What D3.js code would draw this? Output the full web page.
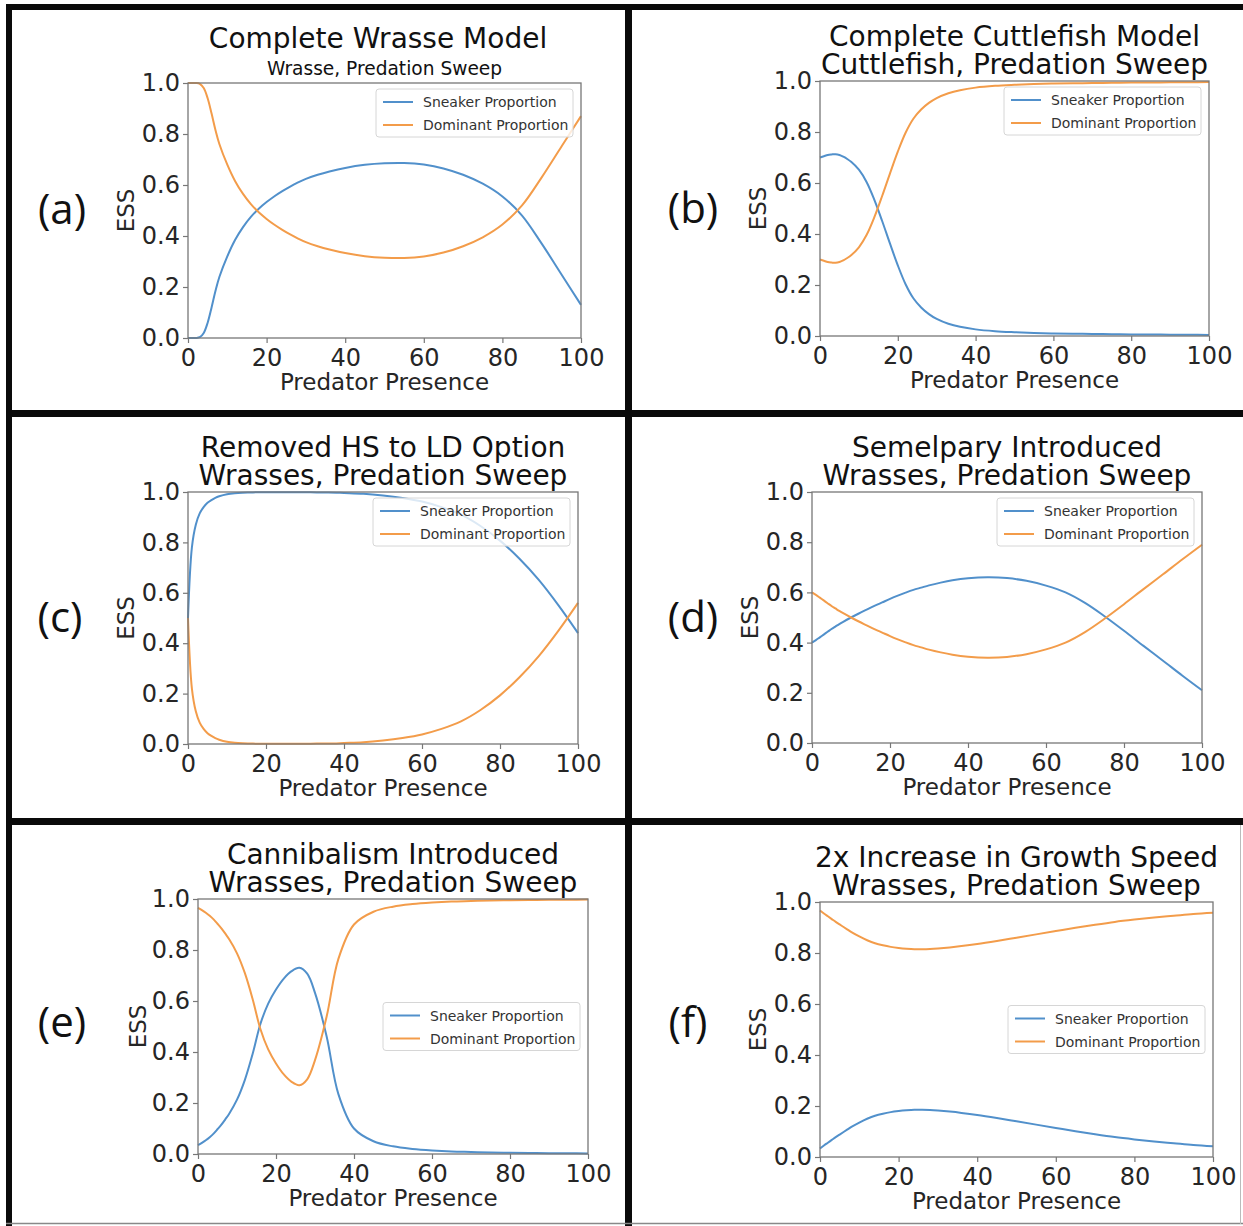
<!DOCTYPE html>
<html>
<head>
<meta charset="utf-8">
<script src="https://cdn.jsdelivr.net/npm/d3@7"></script>
<style>
  body { margin: 0; background: #fff; }
  svg { display: block; }
</style>
</head>
<body>
<div id="chart"></div>
<script>
// predator presence sample points (shared by every panel)
const xValues = [0, 1, 2, 3, 4, 5, 6, 7, 8, 10, 12, 14, 16, 18, 20, 22, 24, 26, 28, 30, 33, 36, 40, 45, 50, 55, 60, 65, 70, 75, 80, 85, 90, 95, 100];

// (a) Complete Wrasse Model
const sneakerA  = [0, 0, 0, 0.003, 0.02, 0.06, 0.12, 0.185, 0.24, 0.32, 0.385, 0.435, 0.475, 0.507, 0.533, 0.556, 0.576, 0.594, 0.61, 0.624, 0.64, 0.653, 0.667, 0.679, 0.685, 0.686, 0.68, 0.665, 0.64, 0.605, 0.555, 0.48, 0.37, 0.25, 0.13];
const dominantA = [1, 1, 1, 0.997, 0.98, 0.94, 0.88, 0.815, 0.76, 0.68, 0.615, 0.565, 0.525, 0.493, 0.467, 0.444, 0.424, 0.406, 0.39, 0.376, 0.36, 0.347, 0.333, 0.321, 0.315, 0.314, 0.32, 0.335, 0.36, 0.395, 0.445, 0.52, 0.63, 0.75, 0.87];

// (b) Complete Cuttlefish Model
const sneakerB  = [0.70, 0.705, 0.71, 0.712, 0.713, 0.71, 0.703, 0.694, 0.683, 0.652, 0.603, 0.533, 0.45, 0.362, 0.277, 0.203, 0.148, 0.112, 0.086, 0.067, 0.048, 0.036, 0.026, 0.019, 0.015, 0.012, 0.010, 0.009, 0.008, 0.007, 0.006, 0.006, 0.005, 0.005, 0.004];
const dominantB = [0.30, 0.295, 0.29, 0.288, 0.287, 0.29, 0.297, 0.306, 0.317, 0.348, 0.397, 0.467, 0.55, 0.638, 0.723, 0.797, 0.852, 0.888, 0.914, 0.933, 0.952, 0.964, 0.974, 0.981, 0.985, 0.988, 0.990, 0.991, 0.992, 0.993, 0.994, 0.994, 0.995, 0.995, 0.996];

// (c) Removed HS to LD Option
const sneakerC  = [0.50, 0.78, 0.87, 0.915, 0.94, 0.957, 0.968, 0.977, 0.983, 0.991, 0.995, 0.997, 0.998, 0.999, 0.999, 0.999, 0.999, 0.999, 0.999, 0.999, 0.998, 0.998, 0.996, 0.993, 0.986, 0.976, 0.962, 0.94, 0.91, 0.865, 0.807, 0.735, 0.65, 0.55, 0.44];
const dominantC = [0.50, 0.22, 0.13, 0.085, 0.06, 0.043, 0.032, 0.023, 0.017, 0.009, 0.005, 0.003, 0.002, 0.001, 0.001, 0.001, 0.001, 0.001, 0.001, 0.001, 0.002, 0.002, 0.004, 0.007, 0.014, 0.024, 0.038, 0.06, 0.09, 0.135, 0.193, 0.265, 0.35, 0.45, 0.56];

// (d) Semelpary Introduced
const sneakerD  = [0.40, 0.41, 0.421, 0.432, 0.443, 0.454, 0.464, 0.474, 0.483, 0.50, 0.516, 0.531, 0.546, 0.56, 0.574, 0.587, 0.599, 0.61, 0.619, 0.628, 0.639, 0.648, 0.656, 0.66, 0.657, 0.646, 0.627, 0.60, 0.558, 0.505, 0.447, 0.387, 0.328, 0.268, 0.21];
const dominantD = [0.60, 0.59, 0.579, 0.568, 0.557, 0.546, 0.536, 0.526, 0.517, 0.50, 0.484, 0.469, 0.454, 0.44, 0.426, 0.413, 0.401, 0.39, 0.381, 0.372, 0.361, 0.352, 0.344, 0.34, 0.343, 0.354, 0.373, 0.40, 0.442, 0.495, 0.553, 0.613, 0.672, 0.732, 0.79];

// (e) Cannibalism Introduced
const sneakerE  = [0.035, 0.044, 0.054, 0.066, 0.08, 0.097, 0.115, 0.136, 0.158, 0.213, 0.29, 0.392, 0.51, 0.59, 0.645, 0.688, 0.717, 0.73, 0.707, 0.632, 0.46, 0.235, 0.10, 0.05, 0.03, 0.02, 0.014, 0.01, 0.008, 0.006, 0.005, 0.004, 0.003, 0.003, 0.002];
const dominantE = [0.965, 0.956, 0.946, 0.934, 0.92, 0.903, 0.885, 0.864, 0.842, 0.787, 0.71, 0.608, 0.49, 0.41, 0.355, 0.312, 0.283, 0.27, 0.293, 0.368, 0.54, 0.765, 0.90, 0.95, 0.97, 0.98, 0.986, 0.99, 0.992, 0.994, 0.995, 0.996, 0.997, 0.997, 0.998];

// (f) 2x Increase in Growth Speed
const sneakerF  = [0.033, 0.045, 0.056, 0.067, 0.078, 0.088, 0.098, 0.108, 0.118, 0.135, 0.150, 0.162, 0.170, 0.176, 0.180, 0.183, 0.185, 0.185, 0.184, 0.182, 0.178, 0.173, 0.165, 0.153, 0.140, 0.127, 0.114, 0.101, 0.089, 0.078, 0.069, 0.061, 0.054, 0.047, 0.042];
const dominantF = [0.967, 0.955, 0.944, 0.933, 0.922, 0.912, 0.902, 0.892, 0.882, 0.865, 0.85, 0.838, 0.83, 0.824, 0.82, 0.817, 0.815, 0.815, 0.816, 0.818, 0.822, 0.827, 0.835, 0.847, 0.86, 0.873, 0.886, 0.899, 0.911, 0.922, 0.931, 0.939, 0.946, 0.953, 0.958];

const seriesNames = ["Sneaker Proportion", "Dominant Proportion"];
const seriesColors = ["#5190cb", "#f39c4a"];
const xTicks = [0, 20, 40, 60, 80, 100];
const yTicks = [0, 0.2, 0.4, 0.6, 0.8, 1.0];

const panelLetters = ["(a)", "(b)", "(c)", "(d)", "(e)", "(f)"];
const panelTitles = [
    ["Complete Wrasse Model"],
    ["Complete Cuttlefish Model", "Cuttlefish, Predation Sweep"],
    ["Removed HS to LD Option", "Wrasses, Predation Sweep"],
    ["Semelpary Introduced", "Wrasses, Predation Sweep"],
    ["Cannibalism Introduced", "Wrasses, Predation Sweep"],
    ["2x Increase in Growth Speed", "Wrasses, Predation Sweep"]
];
const panelSubtitles = ["Wrasse, Predation Sweep", null, null, null, null, null];
const panelSeries = [
    [sneakerA, dominantA], [sneakerB, dominantB], [sneakerC, dominantC],
    [sneakerD, dominantD], [sneakerE, dominantE], [sneakerF, dominantF]
];

// layout of each axes box in the figure
const panelLayout = [
    {l: 188, r: 581, t: 83, b: 338, letter: [62, 212], essX: 126, legend: "upper", titleX: 378},
    {l: 820, r: 1209, t: 81, b: 336, letter: [693, 211], essX: 758, legend: "upper"},
    {l: 188, r: 578, t: 492, b: 744, letter: [60, 620], essX: 126, legend: "upper"},
    {l: 812, r: 1202, t: 492, b: 743, letter: [693, 620], essX: 750, legend: "upper"},
    {l: 198, r: 588, t: 899, b: 1154, letter: [62, 1025], essX: 138, legend: "center"},
    {l: 820, r: 1213, t: 902, b: 1157, letter: [688, 1025], essX: 758, legend: "center"}
];

const W = 1243, H = 1226;
const FONT = "'DejaVu Sans', sans-serif";
const spineColor = "#777";

const svg = d3.select("#chart").append("svg")
    .attr("width", W)
    .attr("height", H)
    .attr("viewBox", `0 0 ${W} ${H}`);

svg.append("rect").attr("width", W).attr("height", H).attr("fill", "#fff");

panelLayout.forEach((p, i) => {
    const g = svg.append("g");
    const x = d3.scaleLinear().domain([0, 100]).range([p.l, p.r]);
    const y = d3.scaleLinear().domain([0, 1]).range([p.b, p.t]);

    // Lines
    const line = d3.line()
        .x(d => x(d[0]))
        .y(d => y(d[1]))
        .curve(d3.curveCatmullRom.alpha(0.5));

    panelSeries[i].forEach((vals, k) => {
        g.append("path")
            .datum(xValues.map((xv, j) => [xv, vals[j]]))
            .attr("d", line)
            .attr("fill", "none")
            .attr("stroke", seriesColors[k])
            .attr("stroke-width", 2)
            .attr("stroke-linejoin", "round");
    });

    // Axes
    const xAxis = g.append("g")
        .attr("transform", `translate(0,${p.b})`)
        .call(d3.axisBottom(x).tickValues(xTicks).tickSize(5).tickPadding(6).tickFormat(d => d));
    const yAxis = g.append("g")
        .attr("transform", `translate(${p.l},0)`)
        .call(d3.axisLeft(y).tickValues(yTicks).tickSize(5).tickPadding(3).tickFormat(d3.format(".1f")));

    [xAxis, yAxis].forEach(a => {
        a.select(".domain").remove();
        a.selectAll(".tick line").attr("stroke", spineColor).attr("stroke-width", 1.2);
        a.selectAll(".tick text")
            .attr("fill", "#262626")
            .style("font-family", FONT)
            .style("font-size", "24px");
    });

    // Spines
    g.append("rect")
        .attr("x", p.l).attr("y", p.t)
        .attr("width", p.r - p.l).attr("height", p.b - p.t)
        .attr("fill", "none")
        .attr("stroke", spineColor)
        .attr("stroke-width", 1.3);

    // Axis labels
    g.append("text")
        .attr("x", (p.l + p.r) / 2)
        .attr("y", p.b + 52)
        .attr("text-anchor", "middle")
        .style("font-family", FONT).style("font-size", "23px")
        .attr("fill", "#262626")
        .text("Predator Presence");

    g.append("text")
        .attr("transform", `translate(${p.essX + 8},${(p.t + p.b) / 2}) rotate(-90)`)
        .attr("text-anchor", "middle")
        .style("font-family", FONT).style("font-size", "23px")
        .attr("fill", "#262626")
        .text("ESS");

    // Titles
    const cx = (p.l + p.r) / 2;
    const lines = panelTitles[i];
    if (panelSubtitles[i]) {
        g.append("text")
            .attr("x", p.titleX).attr("y", p.t - 35)
            .attr("text-anchor", "middle")
            .style("font-family", FONT).style("font-size", "28px")
            .attr("fill", "#111")
            .text(lines[0]);
        g.append("text")
            .attr("x", cx).attr("y", p.t - 8)
            .attr("text-anchor", "middle")
            .style("font-family", FONT).style("font-size", "18.6px")
            .attr("fill", "#111")
            .text(panelSubtitles[i]);
    } else {
        // two-line title kept in one text element
        const title = g.append("text")
            .attr("text-anchor", "middle")
            .style("font-family", FONT).style("font-size", "28px")
            .attr("fill", "#111");
        lines.forEach((t, k) => {
            title.append("tspan")
                .attr("x", cx).attr("y", p.t - 35 + k * 28)
                .text(t);
        });
    }

    // Panel letter
    g.append("text")
        .attr("x", p.letter[0]).attr("y", p.letter[1] + 12)
        .attr("text-anchor", "middle")
        .style("font-family", "'Open Sans', 'Noto Sans', sans-serif").style("font-size", "42px")
        .attr("fill", "#111")
        .text(panelLetters[i]);

    // Legend
    const lw = 197, lh = 48;
    const lx = p.r - 8 - lw;
    const ly = p.legend === "upper" ? p.t + 6 : (p.t + p.b) / 2 - lh / 2;
    const leg = g.append("g").attr("transform", `translate(${lx},${ly})`);
    leg.append("rect")
        .attr("width", lw).attr("height", lh)
        .attr("rx", 3)
        .attr("fill", "#fff").attr("fill-opacity", 0.8)
        .attr("stroke", "#d6d6d6").attr("stroke-width", 1);
    seriesNames.forEach((name, k) => {
        const ry = 13 + k * 23;
        leg.append("line")
            .attr("x1", 7).attr("x2", 37)
            .attr("y1", ry).attr("y2", ry)
            .attr("stroke", seriesColors[k]).attr("stroke-width", 2);
        leg.append("text")
            .attr("x", 47).attr("y", ry + 5)
            .style("font-family", FONT).style("font-size", "14px")
            .attr("fill", "#333")
            .text(name);
    });
});

// Panel frames
const frames = [
    [6, 4, 6, 1222],     // left edge
    [6, 4, 1237, 6],     // top edge
    [625, 4, 7, 1222],   // middle divider
    [6, 410, 1237, 7],   // first row divider
    [6, 818, 1237, 7]    // second row divider
];
svg.selectAll(".frame").data(frames).enter().append("rect")
    .attr("class", "frame")
    .attr("x", d => d[0]).attr("y", d => d[1])
    .attr("width", d => d[2]).attr("height", d => d[3])
    .attr("fill", "#0a0a0a");

svg.append("line")
    .attr("x1", 6).attr("x2", W).attr("y1", 1223.5).attr("y2", 1223.5)
    .attr("stroke", "#888").attr("stroke-width", 1.5);
svg.append("line")
    .attr("x1", 1240.5).attr("x2", 1240.5).attr("y1", 825).attr("y2", 1224)
    .attr("stroke", "#bbb").attr("stroke-width", 1);
</script>
</body>
</html>
